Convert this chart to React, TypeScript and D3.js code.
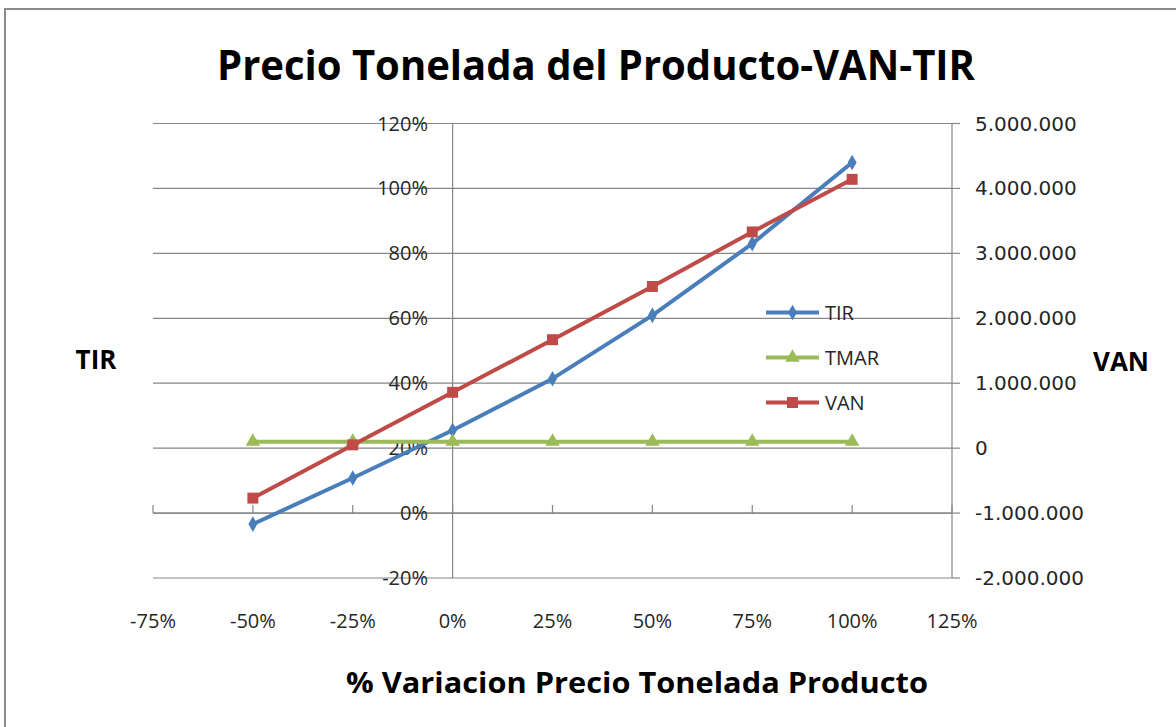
import React from 'react';
import * as d3 from 'd3';

// variation of the product price per tonne (x)
const xCategories = [-50, -25, 0, 25, 50, 75, 100];
const tirValues = [-3.4, 10.8, 25.5, 41.4, 60.9, 83, 108]; // % (left axis)
const tmarValues = [22, 22, 22, 22, 22, 22, 22]; // % (left axis)
const vanValues = [-770000, 50000, 860000, 1670000, 2490000, 3330000, 4140000]; // right axis

const xTicks = [-75, -50, -25, 0, 25, 50, 75, 100, 125];
const leftTicks = [-20, 0, 20, 40, 60, 80, 100, 120];
const rightTicks = [-2000000, -1000000, 0, 1000000, 2000000, 3000000, 4000000, 5000000];

const W = 1176;
const H = 727;
const plotLeft = 153;
const plotRight = 952;
const plotTop = 123.5;
const plotBottom = 578;

const labelFont = "'Open Sans', sans-serif";
const numFont = "'DejaVu Sans', Verdana, sans-serif";

const colors = { tir: '#4a7ebb', tmar: '#9bbb59', van: '#be4b48' };

// thousands with dots, plain hyphen for negatives
const fmtVan = (v: number) => d3.format(',')(v).replace(/,/g, '.').replace('\u2212', '-');

export default function App() {
  const x = d3.scaleLinear().domain([-75, 125]).range([plotLeft, plotRight]);
  const yL = d3.scaleLinear().domain([-20, 120]).range([plotBottom, plotTop]);
  const yR = d3.scaleLinear().domain([-2000000, 5000000]).range([plotBottom, plotTop]);

  const tirPts: [number, number][] = xCategories.map((c, i) => [x(c), yL(tirValues[i])]);
  const tmarPts: [number, number][] = xCategories.map((c, i) => [x(c), yL(tmarValues[i])]);
  const vanPts: [number, number][] = xCategories.map((c, i) => [x(c), yR(vanValues[i])]);

  const line = d3.line();
  const diamond = d3.symbol().type(d3.symbolDiamond).size(70)() as string;
  const triangle = d3.symbol().type(d3.symbolTriangle).size(90)() as string;
  const square = d3.symbol().type(d3.symbolSquare).size(120)() as string;

  const series = [
    { name: 'TIR', pts: tirPts, color: colors.tir, marker: diamond },
    { name: 'TMAR', pts: tmarPts, color: colors.tmar, marker: triangle },
    { name: 'VAN', pts: vanPts, color: colors.van, marker: square },
  ];

  const xAxisY = yL(0);

  return (
    <svg
      width={W}
      height={H}
      style={{ position: 'absolute', left: 0, top: 0, background: '#fff' }}
    >
      {/* chart frame */}
      <rect x={5} y={9} width={W + 20} height={H + 20} fill="#fff" stroke="#8c8c8c" strokeWidth={2} />

      {/* title */}
      <text
        x={596}
        y={80}
        textAnchor="middle"
        fontFamily={labelFont}
        fontWeight="bold"
        fontSize={41}
        textLength={758}
        lengthAdjust="spacingAndGlyphs"
        fill="#000"
      >
        Precio Tonelada del Producto-VAN-TIR
      </text>

      {/* horizontal gridlines */}
      {leftTicks.map((t) => (
        <line key={'g' + t} x1={plotLeft} x2={plotRight} y1={yL(t)} y2={yL(t)} stroke="#868686" strokeWidth={1.2} />
      ))}

      {/* vertical axis at x = 0 */}
      <line x1={x(0)} x2={x(0)} y1={plotTop} y2={plotBottom} stroke="#868686" strokeWidth={1.2} />

      {/* horizontal axis at TIR = 0 with tick marks */}
      <line x1={plotLeft} x2={plotRight} y1={xAxisY} y2={xAxisY} stroke="#868686" strokeWidth={1.2} />
      {xTicks.map((t) => (
        <line key={'xt' + t} x1={x(t)} x2={x(t)} y1={xAxisY - 8} y2={xAxisY} stroke="#868686" strokeWidth={1.2} />
      ))}

      {/* right axis */}
      <line x1={plotRight} x2={plotRight} y1={plotTop} y2={plotBottom} stroke="#868686" strokeWidth={1.2} />
      {rightTicks.map((t) => (
        <line key={'rt' + t} x1={plotRight} x2={plotRight + 8} y1={yR(t)} y2={yR(t)} stroke="#868686" strokeWidth={1.2} />
      ))}

      {/* left tick labels */}
      {leftTicks.map((t) => (
        <text
          key={'lt' + t}
          x={428}
          y={yL(t) + 7}
          textAnchor="end"
          fontFamily={labelFont}
          fontSize={20}
          fill="#262626"
        >
          {t + '%'}
        </text>
      ))}

      {/* right tick labels */}
      {rightTicks.map((t) => (
        <text
          key={'rl' + t}
          x={975}
          y={yR(t) + 7}
          textAnchor="start"
          fontFamily={numFont}
          fontSize={20}
          fill="#262626"
        >
          {fmtVan(t)}
        </text>
      ))}

      {/* x tick labels */}
      {xTicks.map((t) => (
        <text
          key={'xl' + t}
          x={x(t)}
          y={628}
          textAnchor="middle"
          fontFamily={labelFont}
          fontSize={20}
          fill="#262626"
        >
          {t + '%'}
        </text>
      ))}

      {/* axis titles */}
      <text x={96} y={369} textAnchor="middle" fontFamily={labelFont} fontWeight="bold" fontSize={26} fill="#000">
        TIR
      </text>
      <text x={1121} y={371} textAnchor="middle" fontFamily={labelFont} fontWeight="bold" fontSize={26} fill="#000">
        VAN
      </text>
      <text
        x={637}
        y={693}
        textAnchor="middle"
        fontFamily={labelFont}
        fontWeight="bold"
        fontSize={29}
        textLength={582}
        lengthAdjust="spacingAndGlyphs"
        fill="#000"
      >
        % Variacion Precio Tonelada Producto
      </text>

      {/* series */}
      {series.map((s) => (
        <g key={s.name}>
          <path d={line(s.pts) || ''} fill="none" stroke={s.color} strokeWidth={4} strokeLinejoin="round" />
          {s.pts.map((p, i) => (
            <path key={i} d={s.marker} transform={`translate(${p[0]},${p[1]})`} fill={s.color} />
          ))}
        </g>
      ))}

      {/* legend */}
      {series.map((s, i) => {
        const ly = 312.5 + i * 45;
        return (
          <g key={'lg' + s.name}>
            <line x1={766} x2={819} y1={ly} y2={ly} stroke={s.color} strokeWidth={4} />
            <path d={s.marker} transform={`translate(${792.5},${ly})`} fill={s.color} />
            <text x={825} y={ly + 7} fontFamily={labelFont} fontSize={20} fill="#262626">
              {s.name}
            </text>
          </g>
        );
      })}
    </svg>
  );
}
